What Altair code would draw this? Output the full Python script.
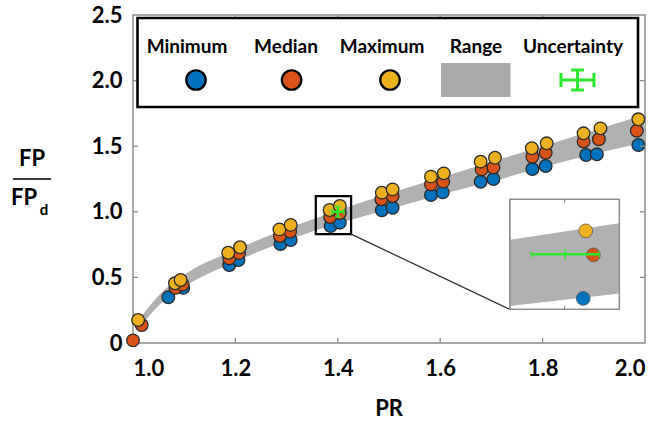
import altair as alt
import pandas as pd

# ---------------- data ----------------
min_pr = [1.069, 1.098, 1.188, 1.206, 1.288, 1.308, 1.386, 1.404, 1.486, 1.507,
          1.582, 1.605, 1.679, 1.704, 1.780, 1.806, 1.885, 1.906, 1.987]
min_v = [0.348, 0.420, 0.594, 0.633, 0.755, 0.785, 0.892, 0.917, 1.012, 1.031,
         1.128, 1.148, 1.229, 1.250, 1.326, 1.349, 1.433, 1.438, 1.509]
med_pr = [1.000, 1.017, 1.083, 1.097, 1.188, 1.207, 1.287, 1.307, 1.385, 1.404,
          1.485, 1.507, 1.582, 1.606, 1.681, 1.704, 1.780, 1.806, 1.880, 1.910, 1.984]
med_v = [0.020, 0.137, 0.420, 0.445, 0.645, 0.685, 0.815, 0.850, 0.960, 0.990,
         1.095, 1.120, 1.209, 1.230, 1.323, 1.338, 1.420, 1.450, 1.535, 1.553, 1.618]
max_pr = [1.010, 1.082, 1.093, 1.186, 1.209, 1.286, 1.308, 1.384, 1.404, 1.486,
          1.507, 1.582, 1.607, 1.679, 1.707, 1.779, 1.808, 1.880, 1.913, 1.987]
max_v = [0.175, 0.455, 0.480, 0.688, 0.730, 0.866, 0.900, 1.014, 1.044, 1.146,
         1.171, 1.268, 1.293, 1.382, 1.412, 1.484, 1.522, 1.598, 1.636, 1.705]

band_pr = [1.01, 1.03, 1.06, 1.10, 1.20, 1.30, 1.40, 1.50, 1.60, 1.70, 1.80, 1.90, 2.00]
band_low = [0.10, 0.20, 0.32, 0.43, 0.62, 0.78, 0.91, 1.02, 1.13, 1.23, 1.34, 1.44, 1.53]
band_high = [0.17, 0.27, 0.40, 0.52, 0.71, 0.87, 1.01, 1.14, 1.26, 1.38, 1.50, 1.62, 1.74]

unc_pr = [1.400]
unc_v = [1.000]
unc_dx = [0.012]
unc_dy = [0.040]

series_names = ["Minimum", "Median", "Maximum"]
series_colors = ["#0072BD", "#D95319", "#EDB120"]

x_ticks = [1.0, 1.2, 1.4, 1.6, 1.8, 2.0]
y_ticks = [0.0, 0.5, 1.0, 1.5, 2.0, 2.5]

# zoom box (main data coords) and inset frame (main data coords)
zoom_box = [1.357, 1.426, 0.830, 1.120]
inset_frame = [1.736, 1.950, 0.256, 1.095]

# inset content (inset's own coords)
inset_pr_dom = [1.38, 1.42]
inset_v_dom = [0.88, 1.10]
inset_band_pr = [1.38, 1.42]
inset_band_low = [0.887, 0.912]
inset_band_high = [1.019, 1.052]
inset_pts_pr = [1.4068, 1.4105, 1.4077]
inset_pts_v = [0.902, 0.989, 1.037]
inset_unc_pr = [1.4002]
inset_unc_v = [0.990]
inset_unc_dx = [0.0124]

# ---------------- layout ----------------
W, H = 512, 328
GRAY = "#8c8c8c"
BAND = "#b1b1b1"
GREEN = "#2ee82e"
FONT = "Lato"

xs = alt.Scale(domain=[1.0, 2.0], nice=False, zero=False)
ys = alt.Scale(domain=[0.0, 2.5], nice=False, zero=False)
xaxis = alt.Axis(values=x_ticks, format=".1f", title=None, grid=False, ticks=False,
                 domain=False, labelFont=FONT, labelFontSize=22, labelFontWeight="bold",
                 labelColor="black", labelPadding=15, labelFlush=True)
yaxis = alt.Axis(values=y_ticks, title=None, grid=False, ticks=False, domain=False,
                 labelExpr="datum.value == 0 ? '0' : format(datum.value, '.1f')",
                 labelFont=FONT, labelFontSize=22, labelFontWeight="bold",
                 labelColor="black", labelPadding=11, labelFlush=False)


def X(f):
    return alt.X(f, type="quantitative", scale=xs, axis=xaxis)


def Y(f):
    return alt.Y(f, type="quantitative", scale=ys, axis=yaxis)


one = pd.DataFrame({"k": [0]})

band_df = pd.DataFrame({"PR": band_pr, "lo": band_low, "hi": band_high})
band = alt.Chart(band_df).mark_area(color=BAND, opacity=1, interpolate="monotone").encode(
    x=X("PR"), y=Y("lo"), y2="hi")

pts_df = pd.concat([
    pd.DataFrame({"PR": min_pr, "v": min_v, "series": "Minimum", "rank": 0}),
    pd.DataFrame({"PR": med_pr, "v": med_v, "series": "Median", "rank": 1}),
    pd.DataFrame({"PR": max_pr, "v": max_v, "series": "Maximum", "rank": 2}),
], ignore_index=True)
fill_scale = alt.Scale(domain=series_names, range=series_colors)
pts = alt.Chart(pts_df).mark_circle(size=160, stroke="#2b2b2b", strokeWidth=1.3, opacity=1).encode(
    x=X("PR"), y=Y("v"),
    fill=alt.Fill("series:N", scale=fill_scale, legend=None),
    order=alt.Order("rank:Q"))

unc_df = pd.DataFrame({"PR": unc_pr, "v": unc_v})
unc_df["x0"] = unc_df["PR"] - unc_dx[0]
unc_df["x1"] = unc_df["PR"] + unc_dx[0]
unc_df["y0"] = unc_df["v"] - unc_dy[0]
unc_df["y1"] = unc_df["v"] + unc_dy[0]
unc_base = alt.Chart(unc_df)
unc_h = unc_base.mark_rule(color=GREEN, strokeWidth=2.5).encode(x=X("x0"), x2="x1", y=Y("v"))
unc_v_ = unc_base.mark_rule(color=GREEN, strokeWidth=2.5).encode(x=X("PR"), y=Y("y0"), y2="y1")
unc_c1 = unc_base.mark_tick(color=GREEN, orient="vertical", size=6, thickness=2).encode(x=X("x0"), y=Y("v"))
unc_c2 = unc_base.mark_tick(color=GREEN, orient="vertical", size=6, thickness=2).encode(x=X("x1"), y=Y("v"))
unc_c3 = unc_base.mark_tick(color=GREEN, orient="horizontal", size=6, thickness=2).encode(x=X("PR"), y=Y("y0"))
unc_c4 = unc_base.mark_tick(color=GREEN, orient="horizontal", size=6, thickness=2).encode(x=X("PR"), y=Y("y1"))

zb_df = pd.DataFrame({"x0": [zoom_box[0]], "x1": [zoom_box[1]], "y0": [zoom_box[2]], "y1": [zoom_box[3]]})
zbox = alt.Chart(zb_df).mark_rect(fill=None, stroke="black", strokeWidth=2.2).encode(
    x=X("x0"), x2="x1", y=Y("y0"), y2="y1")

con_df = pd.DataFrame({"x0": [zoom_box[1]], "y0": [zoom_box[2]], "x1": [inset_frame[0]], "y1": [inset_frame[2]]})
connector = alt.Chart(con_df).mark_rule(color="#333333", strokeWidth=1.3).encode(
    x=X("x0"), y=Y("y0"), x2="x1", y2="y1")

# inward frame ticks
xt_in = pd.DataFrame({"PR": x_ticks[1:-1]})
yt_in = pd.DataFrame({"v": y_ticks[1:-1]})
tk_b = alt.Chart(xt_in).mark_rule(color=GRAY, strokeWidth=1.3).encode(x=X("PR"), y=alt.value(H), y2=alt.value(H - 5))
tk_t = alt.Chart(xt_in).mark_rule(color=GRAY, strokeWidth=1.3).encode(x=X("PR"), y=alt.value(0), y2=alt.value(5))
tk_l = alt.Chart(yt_in).mark_rule(color=GRAY, strokeWidth=1.3).encode(y=Y("v"), x=alt.value(0), x2=alt.value(5))
tk_r = alt.Chart(yt_in).mark_rule(color=GRAY, strokeWidth=1.3).encode(y=Y("v"), x=alt.value(W), x2=alt.value(W - 5))

# legend (drawn)
leg_box = alt.Chart(one).mark_rect(fill="white", stroke="black", strokeWidth=2.6).encode(
    x=alt.value(4.5), x2=alt.value(505), y=alt.value(3), y2=alt.value(92))
leg_layers = [leg_box]
leg_label_x = [54, 153, 249, 343, 440]
leg_labels = ["Minimum", "Median", "Maximum", "Range", "Uncertainty"]
for lx, lt in zip(leg_label_x, leg_labels):
    leg_layers.append(alt.Chart(one).mark_text(text=lt, font=FONT, fontSize=19, fontWeight="bold",
                                               color="black", align="center", baseline="middle").encode(
        x=alt.value(lx), y=alt.value(32)))
for cx, col in zip([63, 158.6, 257], series_colors):
    leg_layers.append(alt.Chart(one).mark_point(shape="circle", filled=True, fill=col, stroke="black",
                                                strokeWidth=2.2, size=380, opacity=1).encode(
        x=alt.value(cx), y=alt.value(65)))
leg_layers.append(alt.Chart(one).mark_rect(fill="#aaaaaa").encode(
    x=alt.value(308), x2=alt.value(377.5), y=alt.value(48), y2=alt.value(82)))
for (a, b, c, d) in [(428, 65, 461, 65), (428, 58, 428, 72), (461, 58, 461, 72),
                     (444.5, 55, 444.5, 75), (438, 55, 451, 55), (438, 75, 451, 75)]:
    leg_layers.append(alt.Chart(one).mark_rule(color=GREEN, strokeWidth=3).encode(
        x=alt.value(a), y=alt.value(b), x2=alt.value(c), y2=alt.value(d)))

# axis titles (drawn)
titles = [
    alt.Chart(one).mark_text(text="FP", font=FONT, fontSize=22, fontWeight="bold", color="black",
                             align="center", baseline="middle").encode(x=alt.value(-101), y=alt.value(144)),
    alt.Chart(one).mark_rule(color="black", strokeWidth=1.6).encode(
        x=alt.value(-120), x2=alt.value(-82), y=alt.value(164)),
    alt.Chart(one).mark_text(text="FP", font=FONT, fontSize=22, fontWeight="bold", color="black",
                             align="center", baseline="middle").encode(x=alt.value(-109), y=alt.value(183)),
    alt.Chart(one).mark_text(text="d", font=FONT, fontSize=15, fontWeight="bold", color="black",
                             align="center", baseline="middle").encode(x=alt.value(-89), y=alt.value(195)),
    alt.Chart(one).mark_text(text="PR", font=FONT, fontSize=22, fontWeight="bold", color="black",
                             align="center", baseline="middle").encode(x=alt.value(W / 2), y=alt.value(394)),
]

main = alt.layer(band, pts, unc_h, unc_v_, unc_c1, unc_c2, unc_c3, unc_c4, zbox, connector,
                 tk_b, tk_t, tk_l, tk_r, *leg_layers, *titles)

# ---------------- inset ----------------
ix_rng = [(inset_frame[0] - 1.0) / 1.0 * W, (inset_frame[1] - 1.0) / 1.0 * W]
iy_rng = [H - inset_frame[2] / 2.5 * H, H - inset_frame[3] / 2.5 * H]
ixs = alt.Scale(domain=inset_pr_dom, range=ix_rng, nice=False, zero=False)
iys = alt.Scale(domain=inset_v_dom, range=iy_rng, nice=False, zero=False)


def IX(f):
    return alt.X(f, type="quantitative", scale=ixs, axis=None)


def IY(f):
    return alt.Y(f, type="quantitative", scale=iys, axis=None)


ibg_df = pd.DataFrame({"x0": [inset_pr_dom[0]], "x1": [inset_pr_dom[1]], "y0": [inset_v_dom[0]], "y1": [inset_v_dom[1]]})
ibg = alt.Chart(ibg_df).mark_rect(fill="white", stroke=GRAY, strokeWidth=1.3).encode(
    x=IX("x0"), x2="x1", y=IY("y0"), y2="y1")
iband_df = pd.DataFrame({"x": inset_band_pr, "lo": inset_band_low, "hi": inset_band_high})
iband = alt.Chart(iband_df).mark_area(color=BAND, opacity=1).encode(x=IX("x"), y=IY("lo"), y2="hi")
iframe = alt.Chart(ibg_df).mark_rect(fill=None, stroke=GRAY, strokeWidth=1.3).encode(
    x=IX("x0"), x2="x1", y=IY("y0"), y2="y1")
itk_df = pd.DataFrame({"x": [1.40, 1.40], "y0": [0.88, 1.10], "y1": [0.887, 1.093]})
itk = alt.Chart(itk_df).mark_rule(color=GRAY, strokeWidth=1.2).encode(x=IX("x"), y=IY("y0"), y2="y1")
iunc_df = pd.DataFrame({"x": inset_unc_pr, "y": inset_unc_v})
iunc_df["x0"] = iunc_df["x"] - inset_unc_dx[0]
iunc_df["x1"] = iunc_df["x"] + inset_unc_dx[0]
iub = alt.Chart(iunc_df)
iu_h = iub.mark_rule(color=GREEN, strokeWidth=2.5).encode(x=IX("x0"), x2="x1", y=IY("y"))
iu_c1 = iub.mark_tick(color=GREEN, orient="vertical", size=6, thickness=2).encode(x=IX("x0"), y=IY("y"))
iu_c2 = iub.mark_tick(color=GREEN, orient="vertical", size=6, thickness=2).encode(x=IX("x1"), y=IY("y"))
iu_c3 = iub.mark_tick(color=GREEN, orient="vertical", size=10, thickness=2).encode(x=IX("x"), y=IY("y"))
ipts_df = pd.DataFrame({"x": inset_pts_pr, "y": inset_pts_v, "series": series_names, "rank": [0, 1, 2]})
ipts = alt.Chart(ipts_df).mark_circle(size=190, opacity=1, strokeWidth=0.8, stroke="#555555").encode(
    x=IX("x"), y=IY("y"),
    fill=alt.Fill("series:N", scale=fill_scale, legend=None),
    order=alt.Order("rank:Q"))

inset = alt.layer(ibg, iband, iframe, itk, ipts, iu_h, iu_c1, iu_c2, iu_c3)

chart = alt.layer(main, inset).resolve_scale(x="independent", y="independent").properties(
    width=W, height=H,
    autosize=alt.AutoSizeParams(type="none"),
    padding={"left": 133, "top": 15, "right": 12, "bottom": 82},
    background="white",
).configure_view(stroke=GRAY, strokeWidth=1.5)

chart.save("out.html", embed_options={"renderer": "svg", "actions": False})
